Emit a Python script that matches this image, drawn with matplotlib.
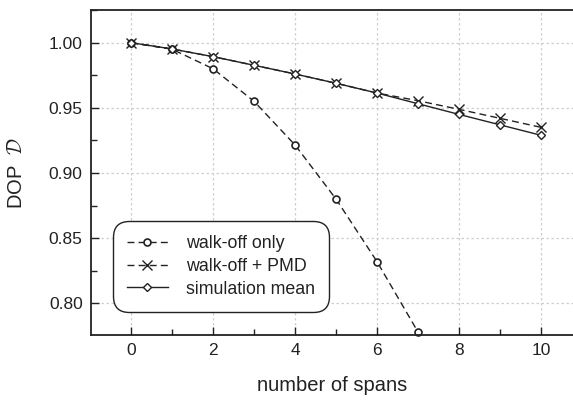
import matplotlib
matplotlib.use("Agg")
import matplotlib.pyplot as plt
from matplotlib.ticker import MultipleLocator

plt.rcParams['font.family'] = ['Liberation Sans', 'DejaVu Sans']
plt.rcParams['mathtext.fontset'] = 'cm'

spans = list(range(11))
walkoff_only = [1.000, 0.995, 0.980, 0.955, 0.9215, 0.880, 0.832, 0.778]
walkoff_pmd = [1.000, 0.9952, 0.9893, 0.9827, 0.976, 0.9689, 0.9614, 0.9555, 0.9489, 0.942, 0.9351]
sim_mean = [1.000, 0.9952, 0.9893, 0.9827, 0.976, 0.9689, 0.9614, 0.9532, 0.945, 0.937, 0.929]

ink = '#222222'

fig = plt.figure(figsize=(5.73, 4.01), dpi=100)
ax = fig.add_axes([91 / 573, 66 / 401, 1 - 91 / 573, 325 / 401])

ax.plot(spans[:len(walkoff_only)], walkoff_only, color=ink, lw=1.0, ls=(0, (5, 3)),
        marker='o', ms=5, mfc='white', mec=ink, mew=1.2, label='walk-off only', clip_on=False)
ax.plot(spans, walkoff_pmd, color=ink, lw=1.0, ls=(0, (5, 3)),
        marker='x', ms=7, mec=ink, mew=1.0, label='walk-off + PMD')
ax.plot(spans, sim_mean, color=ink, lw=1.0, ls='-',
        marker='D', ms=4.5, mfc='white', mec=ink, mew=1.0, label='simulation mean')

ax.set_xlim(-0.98, 10.78)
ax.set_ylim(0.7758, 1.0251)
ax.xaxis.set_major_locator(MultipleLocator(2))
ax.xaxis.set_minor_locator(MultipleLocator(1))
ax.yaxis.set_minor_locator(MultipleLocator(0.025))
ax.set_yticks([0.80, 0.85, 0.90, 0.95, 1.00])
ax.set_yticklabels(['0.80', '0.85', '0.90', '0.95', '1.00'])

ax.tick_params(which='both', direction='in', color=ink, labelsize=12.5, labelcolor=ink, width=1.0,
               top=False, right=False)
ax.tick_params(which='major', length=6, pad=6)
ax.tick_params(which='minor', length=4)

ax.grid(True, which='major', color='#cfcfcf', ls=(0, (2, 2)), lw=0.9)
for side in ['left', 'bottom', 'top']:
    ax.spines[side].set_color(ink)
    ax.spines[side].set_linewidth(1.3)
ax.spines['right'].set_visible(False)

ax.set_xlabel('number of spans', fontsize=14.5, color=ink, labelpad=13)
ax.set_ylabel(r'DOP  $\mathcal{D}$', fontsize=14.5, color=ink, labelpad=16)

leg = ax.legend(loc='lower left', bbox_to_anchor=(0.045, 0.071), borderaxespad=0,
                fontsize=12.8, frameon=True, fancybox=True, edgecolor=ink, framealpha=1,
                handlelength=2.3, handletextpad=1.0, borderpad=0.8, labelspacing=0.33)
leg.get_frame().set_linewidth(1.0)
leg.get_frame().set_boxstyle('round', pad=0.0, rounding_size=0.9)
for t in leg.get_texts():
    t.set_color(ink)

fig.savefig('out.png', dpi=100)
